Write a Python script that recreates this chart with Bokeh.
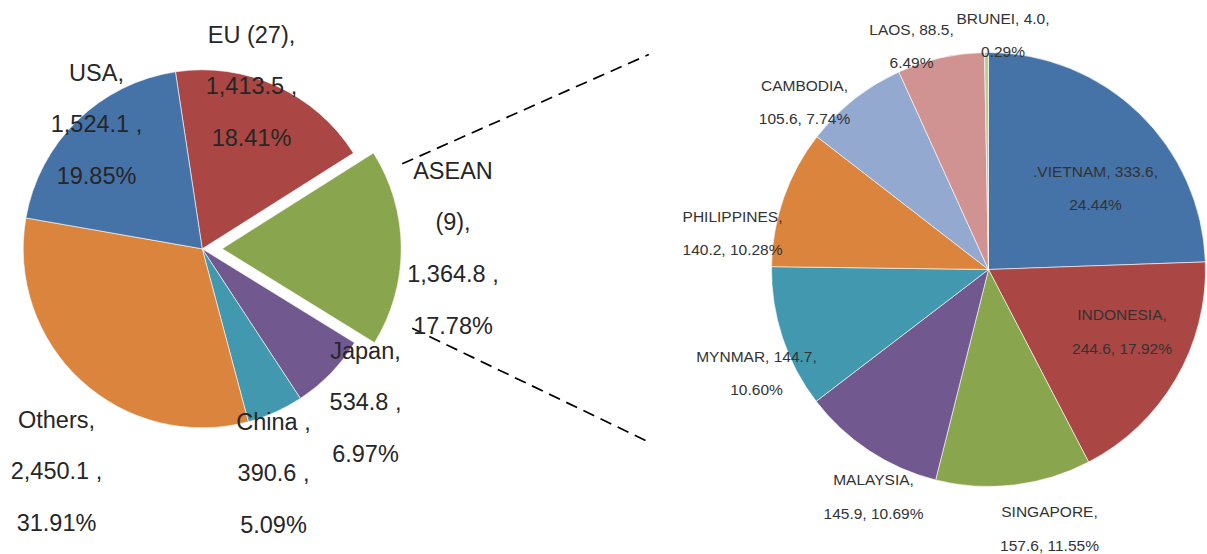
import math
from bokeh.plotting import figure
from bokeh.models import Range1d, ColumnDataSource
from bokeh.core.properties import value
from bokeh.embed import file_html
from bokeh.resources import INLINE

# ---- data ----
main_names = ["EU (27)", "ASEAN (9)", "Japan", "China", "Others", "USA"]
main_values = [1413.5, 1364.8, 534.8, 390.6, 2450.1, 1524.1]
main_pcts = [18.41, 17.78, 6.97, 5.09, 31.91, 19.85]
main_colors = ["#AA4643", "#89A54E", "#71588F", "#4198AF", "#DB843D", "#4572A7"]
main_label_lines = [
    ["EU (27),", "1,413.5 ,", "18.41%"],
    ["ASEAN", "(9),", "1,364.8 ,", "17.78%"],
    ["Japan,", "534.8 ,", "6.97%"],
    ["China ,", "390.6 ,", "5.09%"],
    ["Others,", "2,450.1 ,", "31.91%"],
    ["USA,", "1,524.1 ,", "19.85%"],
]

asean_names = ["VIETNAM", "INDONESIA", "SINGAPORE", "MALAYSIA", "MYNMAR",
               "PHILIPPINES", "CAMBODIA", "LAOS", "BRUNEI"]
asean_values = [333.6, 244.6, 157.6, 145.9, 144.7, 140.2, 105.6, 88.5, 4.0]
asean_pcts = [24.44, 17.92, 11.55, 10.69, 10.60, 10.28, 7.74, 6.49, 0.29]
asean_colors = ["#4572A7", "#AA4643", "#89A54E", "#71588F", "#4198AF",
                "#DB843D", "#93A9CF", "#D19392", "#B9CD96"]
asean_label_lines = [
    [".VIETNAM, 333.6,", "24.44%"],
    ["INDONESIA,", "244.6, 17.92%"],
    ["SINGAPORE,", "157.6, 11.55%"],
    ["MALAYSIA,", "145.9, 10.69%"],
    ["MYNMAR, 144.7,", "10.60%"],
    ["PHILIPPINES,", "140.2, 10.28%"],
    ["CAMBODIA,", "105.6, 7.74%"],
    ["LAOS, 88.5,", "6.49%"],
    ["BRUNEI, 4.0,", "0.29%"],
]

# ---- layout (image pixel coords; y is negated for data space) ----
W, H = 1207, 554
p = figure(width=W, height=H, output_backend="svg", toolbar_location=None,
           x_range=Range1d(0, W), y_range=Range1d(-H, 0),
           min_border=0, outline_line_color=None, background_fill_color="white",
           border_fill_color="white")
p.axis.visible = False
p.grid.visible = False


def wedges(cx, cy, r, vals, colors, a0, explode=None):
    tot = sum(vals)
    xs, ys, sa, ea = [], [], [], []
    cum = 0.0
    for i, v in enumerate(vals):
        s = a0 - 2 * math.pi * cum / tot
        cum += v
        e = a0 - 2 * math.pi * cum / tot
        x, y = cx, cy
        if explode and i in explode:
            m = (s + e) / 2
            x += explode[i] * math.cos(m)
            y += explode[i] * math.sin(m)
        xs.append(x); ys.append(y); sa.append(s); ea.append(e)
    src = ColumnDataSource(dict(x=xs, y=ys, s=sa, e=ea, c=colors))
    p.wedge(x="x", y="y", radius=r, start_angle="s", end_angle="e",
            direction="clock", fill_color="c", line_color="white",
            line_width=0.6, source=src)


wedges(201.7, -248.3, 179, main_values, main_colors,
       math.radians(90 + 8.6), explode={1: 20})
wedges(988, -269, 217, asean_values, asean_colors, math.pi / 2)

# dashed connector lines
p.segment(x0=[401.7, 411.7], y0=[-163.3, -327.7], x1=[648.3, 645],
          y1=[-54, -440], line_color="black", line_width=1.7, line_dash="12 7")


def labels(lines_list, anchors, spacing, size, color):
    xs, ys, ts = [], [], []
    for lines, (ax, ay) in zip(lines_list, anchors):
        for i, t in enumerate(lines):
            xs.append(ax)
            ys.append(-(ay + i * spacing))
            ts.append(t)
    p.text(x=xs, y=ys, text=ts, text_align="center", text_baseline="middle",
           text_font=value("Liberation Sans"), text_font_size=f"{size}px",
           text_color=color)


main_anchors = [(251, 34), (452.5, 170), (365, 350), (273, 421), (56, 419), (96, 72)]
labels(main_label_lines, main_anchors, 51.8, 23.5, "#262626")

asean_anchors = [(1095, 170.5), (1121.5, 314), (1049, 511), (873, 479), (756, 355.5),
                 (732, 215.5), (804, 84.5), (911, 28.5), (1002.5, 17.5)]
labels(asean_label_lines, asean_anchors, 33.6, 15.5, "#333333")

open("out.html", "w").write(file_html(p, INLINE))
